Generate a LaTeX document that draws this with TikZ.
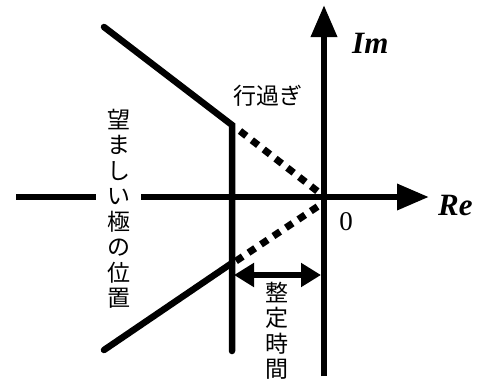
\documentclass[tikz,border=0pt]{standalone}
\usepackage{fontspec}
\setmainfont{Liberation Serif}
\newfontfamily\jp{Noto Sans CJK JP}
\usetikzlibrary{arrows.meta,calc}
\tikzset{
  thick axis/.style={line width=6.5pt},
  axisarrow/.style={-{Triangle[length=32pt,width=25pt]}, line width=6.5pt},
  bound/.style={line width=6.5pt, line cap=round, line join=miter},
  limit/.style={line width=7pt, dash pattern=on 8pt off 7pt},
  span/.style={{Triangle[length=20pt,width=23pt]}-{Triangle[length=20pt,width=23pt]},
               line width=5.5pt},
  axlabel/.style={font=\fontsize{31}{31}\selectfont\bfseries\itshape, inner sep=0pt},
  jplabel/.style={font=\jp\fontsize{23}{25}\selectfont, inner sep=0pt},
  vlabel/.style={font=\jp\fontsize{23}{25.5}\selectfont, align=center,
                 text width=23pt, inner xsep=11pt, inner ysep=0pt},
}
\begin{document}
\begin{tikzpicture}[x=1pt,y=-1pt]
  \useasboundingbox (0,0) rectangle (480,381);

  %% axes
  \coordinate (O) at (324,197);
  \coordinate (imbot) at (324,376);
  \coordinate (imtop) at (324,5);
  \coordinate (releft) at (16,197);
  \coordinate (reright) at (429,197);

  \node[vlabel] (want) at (118.5,209) {望\\ま\\し\\い\\極\\の\\位\\置};
  \draw[thick axis] (releft) -- (want.west |- O);
  \draw[axisarrow] (want.east |- O) -- (reright);
  \draw[axisarrow] (imbot) -- (imtop);

  \node[axlabel, anchor=west] (im) at (352,43) {Im};
  \node[axlabel, anchor=west] (re) at (438,205) {Re};
  \node[font=\fontsize{27}{27}\selectfont, inner sep=0pt] (zero) at (346,222) {0};

  %% desired region
  \coordinate (ul) at (104,27);
  \coordinate (uk) at (232,125);
  \coordinate (vb) at (232,351);
  \coordinate (ll) at (104,350);
  \coordinate (lk) at (232,263);
  \draw[bound] (ul) -- (uk) -- (vb);
  \draw[bound] (ll) -- (lk);

  %% overshoot limit
  \draw[limit] ($(uk)+(8,6)$) -- ($(O)+(-3,-3)$);
  \draw[limit] ($(lk)+(4,-2)$) -- ($(O)+(-1,6)$);
  \node[jplabel] (over) at (268,96) {行過ぎ};

  %% settling time
  \coordinate (sa) at (234,275);
  \coordinate (sb) at (321,275);
  \draw[span] (sa) -- (sb);
  \node[vlabel, inner xsep=0pt] (settle) at (277,331) {整\\定\\時\\間};
\end{tikzpicture}
\end{document}
